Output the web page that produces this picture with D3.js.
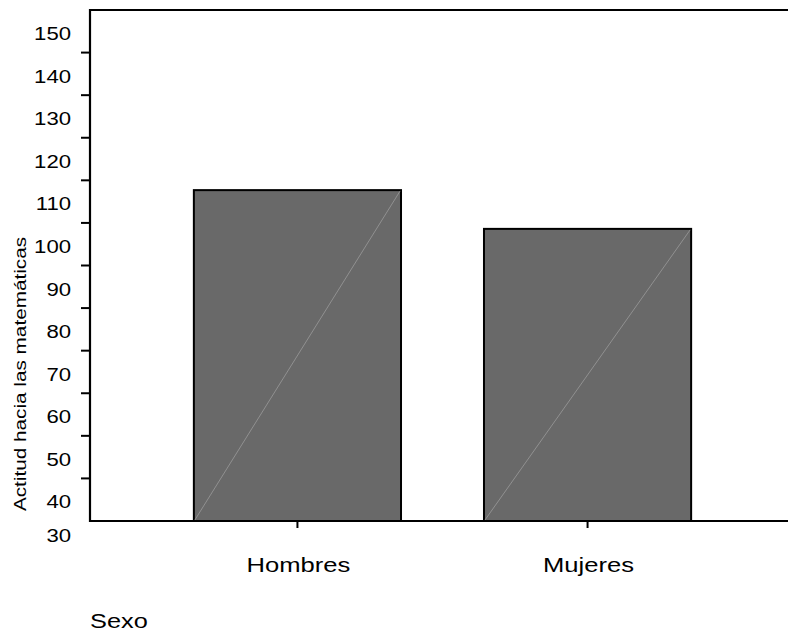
<!DOCTYPE html>
<html><head><meta charset="utf-8">
<script src="https://cdn.jsdelivr.net/npm/d3@7"></script>
<style>
html,body{margin:0;padding:0;background:#fff;}
svg{display:block;font-family:"Liberation Sans",Arial,sans-serif;}
</style></head>
<body>
<script>
const categories = ["Hombres", "Mujeres"];
const values = [107.7, 98.6];
const yTickValues = [40, 50, 60, 70, 80, 90, 100, 110, 120, 130, 140];
const yLabelValues = [30, 40, 50, 60, 70, 80, 90, 100, 110, 120, 130, 140, 150];
const yTitle = "Actitud hacia las matemáticas";
const xTitle = "Sexo";

const W = 788, H = 633;
const svg = d3.select("body").append("svg").attr("width", W).attr("height", H);

const y = d3.scaleLinear().domain([30, 150]).range([521, 10]);
const x = d3.scaleBand().domain(categories).range([90, 795])
  .paddingInner(0.286).paddingOuter(0.358);

// bars
const bars = svg.append("g");
categories.forEach((c, i) => {
  const x0 = x(c), bw = x.bandwidth();
  bars.append("rect").attr("x", x0).attr("y", y(values[i]))
    .attr("width", bw).attr("height", y(30) - y(values[i]))
    .attr("fill", "#696969").attr("stroke", "#000").attr("stroke-width", 2);
  bars.append("line").attr("x1", x0 + 1).attr("y1", y(30) - 1)
    .attr("x2", x0 + bw - 1).attr("y2", y(values[i]) + 1)
    .attr("stroke", "#9a9a9a").attr("stroke-width", 0.8);
});

// frame lines
svg.append("line").attr("x1", 90).attr("x2", W).attr("y1", y(150)).attr("y2", y(150))
  .attr("stroke", "#000").attr("stroke-width", 2.2);
svg.append("line").attr("x1", 90).attr("x2", W).attr("y1", y(30)).attr("y2", y(30))
  .attr("stroke", "#000").attr("stroke-width", 2.2);
svg.append("line").attr("x1", 90).attr("x2", 90).attr("y1", y(150) - 1).attr("y2", y(30) + 1)
  .attr("stroke", "#000").attr("stroke-width", 2.2);

// y ticks
svg.append("g").selectAll("line").data(yTickValues).join("line")
  .attr("x1", 81).attr("x2", 90).attr("y1", d => y(d)).attr("y2", d => y(d))
  .attr("stroke", "#000").attr("stroke-width", 2);

// y labels (offset below ticks, as in the original)
svg.append("g").selectAll("text").data(yLabelValues).join("text")
  .attr("transform", d => `translate(71,${Math.min(y(d) + 30, y(30) + 21)}) scale(1.23,1)`)
  .attr("text-anchor", "end").attr("font-size", 18).attr("fill", "#000")
  .text(d => d);

// x ticks
svg.append("g").selectAll("line").data(categories).join("line")
  .attr("x1", d => x(d) + x.bandwidth() / 2).attr("x2", d => x(d) + x.bandwidth() / 2)
  .attr("y1", y(30)).attr("y2", y(30) + 7)
  .attr("stroke", "#000").attr("stroke-width", 2);

// x labels
svg.append("g").selectAll("text").data(categories).join("text")
  .attr("transform", d => `translate(${x(d) + x.bandwidth() / 2 + 1},572) scale(1.28,1)`)
  .attr("text-anchor", "middle").attr("font-size", 20).attr("fill", "#000")
  .text(d => d);

// titles
svg.append("text")
  .attr("transform", `translate(26,374) rotate(-90) scale(1.22,1)`)
  .attr("text-anchor", "middle").attr("font-size", 17).attr("fill", "#000")
  .text(yTitle);
svg.append("text")
  .attr("transform", `translate(90,628) scale(1.3,1)`)
  .attr("font-size", 19.5).attr("fill", "#000")
  .text(xTitle);
</script>
</body></html>
